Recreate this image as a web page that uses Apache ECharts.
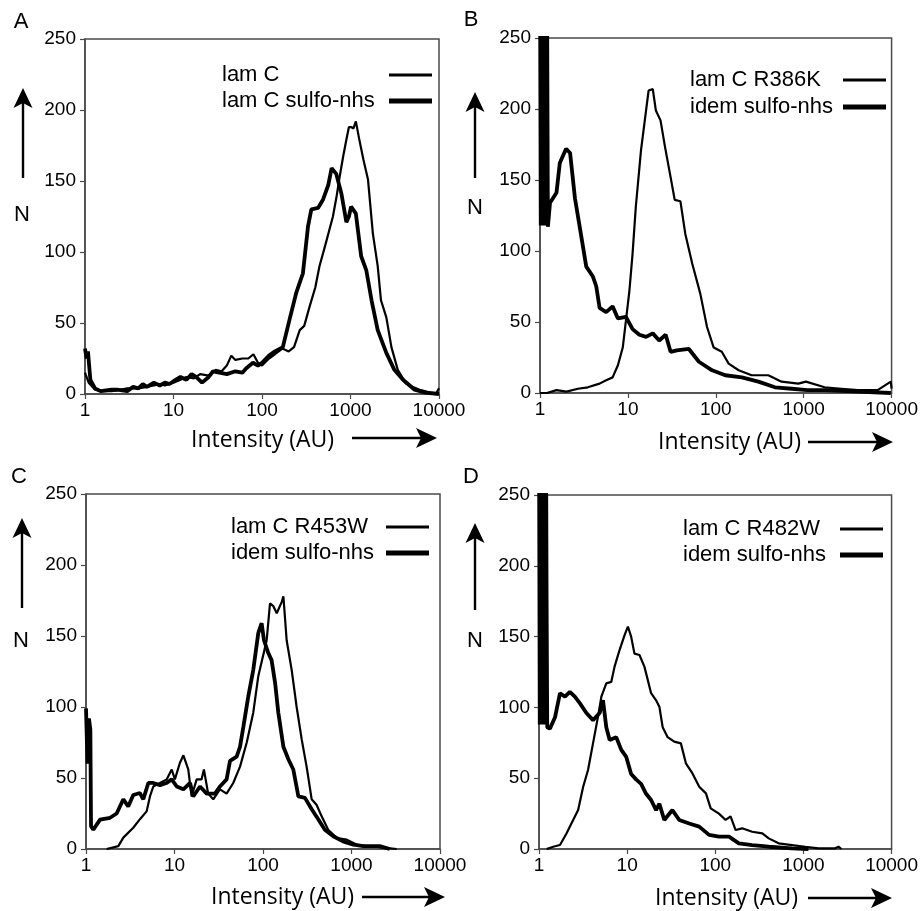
<!DOCTYPE html>
<html><head><meta charset="utf-8">
<script src="https://cdn.jsdelivr.net/npm/echarts@6/dist/echarts.min.js"></script>
<style>html,body{margin:0;padding:0;background:#fff}#c{width:921px;height:911px}</style>
</head><body><div id="c"></div>
<script>
// ---------- DATA ----------
const panelLetters = ['A', 'B', 'C', 'D'];
const yTicks = [0, 50, 100, 150, 200, 250];
const xTicks = [1, 10, 100, 1000, 10000];
const xTitle = 'Intensity (AU)';
const yTitle = 'N';

const namesA = ['lam C', 'lam C sulfo-nhs'];
const namesB = ['lam C R386K', 'idem sulfo-nhs'];
const namesC = ['lam C R453W', 'idem sulfo-nhs'];
const namesD = ['lam C R482W', 'idem sulfo-nhs'];

// Panel A
const aThinX = [1,1.1,1.3,1.5,2,2.5,3,4,5,6,7,8,10,12,14,17,20,25,30,35,40,45,50,60,70,80,90,100,120,140,170,200,230,267,300,343,400,446,520,633,700,754,830,898,960,1015,1080,1150,1250,1400,1577,1790,2030,2210,2540,2900,3420,4220,5000,6060,8000,9300,10000];
const aThinY = [15,8,3,2,2,3,4,4,5,6,7,6,8,10,12,11,14,13,17,16,20,27,24,25,25,28,22,20,25,28,32,30,33,45,48,61,75,90,105,125,140,153,168,179,188,188,187,192,180,165,151,113,90,66,54,33,17,7.5,5,3,1,0.5,4];
const aThickX = [1,1.04,1.08,1.15,1.3,1.5,2,2.3,3,3.5,4,4.5,5,6,7,8,9,10,12,14,16,18,21,25,28,33,40,50,60,66,79,90,100,120,140,172,204,243,290,331,361,430,490,560,612,691,790,898,960,1015,1150,1320,1510,1730,2030,2540,3130,3920,5300,7000,10000];
const aThickY = [32,25,30,10,4,2,3,3,2,5,4,7,5,8,6,8,7,9,12,10,14,12,8,12,16,15,14,16,15,18,22,20,22,27,30,33,52,71,85,118,130,131,137,147,159,155,141,121,125,132,127,97,87,66,45,29,17,10,3,1,0];

// Panel B
const bThinX = [1,1.2,1.54,2,2.7,3.5,4.76,5.66,6.7,7.7,8.74,9.5,10.4,11.3,12.3,14.1,16.1,17.2,19.2,20.8,23.5,26.5,30.6,34.1,39.6,45,54,66.6,79.5,94.6,117,140,182,256,396,560,870,1060,1730,2680,4150,6940,9800,10000];
const bThinY = [0,0,2,1,3,4,6.6,9,11,19.5,32,51,72,98,131,171,199,213,214,199,192,173,152,136,135,112,91,70,46.5,32,29,20.7,16,12.5,12.5,8,6.6,8,4,3,2,2,8,3];
const bThickX = [1,1.02,1.04,1.06,1.08,1.1,1.12,1.14,1.16,1.18,1.2,1.23,1.3,1.54,1.68,1.98,2.2,2.5,2.83,3.36,4.0,4.37,4.76,5.66,6.7,7.7,9.5,11.3,13.5,16.1,19.2,22.7,26.9,30.6,36,49.4,64.3,90.8,128,198,305,471,731,1100,1730,4150,9800];
const bThickY = [300,118,300,118,300,118,300,118,300,118,300,117,134,141,162,172,169,137,117,89,82,75,60,57,61,52.5,53.6,45,41,39.5,42,37,41,29,30,31,22,16,12.5,11,8,4,3,2,2,1,0];

// Panel C
const cThinX = [1.71,2.32,2.64,3.42,4.07,4.84,5.28,5.76,6.85,8.15,9.3,10.1,11.5,12.6,14.3,15.6,17.8,20.2,21.5,24,27.4,32.6,38.8,46.1,55,65.5,77.6,88.4,101,110,120,131,143,163,170,185,211,240,274,311,355,404,460,545,684,885,1150,1490,1950,3240];
const cThinY = [0,2,8,15,21,26.5,37,44,46.5,49,56,49,60.6,66,56,37,49,49,56,39,35,42,39,46.5,58,75,96,121.6,137,147,173,171,166,174,178,147,126,100,77,58,35,31,23,13.6,7.7,6.6,3,2,1.5,0];
const cThickX = [1,1.04,1.08,1.12,1.14,1.21,1.44,1.87,2.22,2.64,3.0,3.42,4.07,4.44,5.06,5.76,6.85,8.15,9.3,10.6,12.6,15,16.3,19.4,23.1,28.7,32.6,38.8,42.4,50.4,55,60,68.2,77.6,88.4,96.5,102.6,114.8,125,137,149,170,194,220,251,298,355,421,500,622,803,1050,1360,2090,2700];
const cThickY = [99,60,92,84,16,13.6,20.7,22,25,35,30,38,39.4,35,46.5,46.5,45,46.5,49,44,42,46.5,37,44,39,39,44,49,62,65,72,86,107.5,126,152,159,147,138,133,117,96,72,63,56,37,36,28,21,13.6,9,5.4,3,2,2,0];

// Panel D
const dThinX = [1.22,1.45,1.73,2.05,2.44,2.78,3.17,3.6,4.1,4.67,5.1,5.8,6.6,7.2,8.2,9.35,10.2,11.1,12.1,13.8,15.7,18.7,21.3,23.2,25.3,28.8,34.2,40.7,46.4,55.1,65.7,78.3,88.7,110,131,149,170,202,262,342,404,523,740,1050,1480,2300,2500,2700];
const dThinY = [0,1.6,2.8,11,20.5,27.5,44,55.8,74.6,93.5,107.6,117,118,128.8,140.5,151,157,150,138,137,128.8,110,105,100.5,86,79,75.8,74.6,60.5,53.4,44,39.3,28.7,25,20.5,23,13.4,14.6,12.2,11,7.5,4,2.8,1.6,0.5,0.5,1.6,0];
const dThickX = [1,1.02,1.04,1.06,1.08,1.1,1.12,1.14,1.16,1.18,1.2,1.22,1.24,1.33,1.52,1.73,1.97,2.24,2.55,2.9,3.45,4.1,4.88,5.32,5.8,6.33,7.52,8.58,9.77,11.1,12.7,14.4,16.4,18.7,21.3,23.2,26.4,32.6,39,50.6,65.7,85,110,143,185,262,404,740,1140];
const dThickY = [300,88,300,88,300,88,300,88,300,88,300,175,86,85,93,110,107.6,111,107.6,103,96,91,96,105,86,77,79,70,65,53,49,46,39,34.6,27.5,32,20.5,27.5,20.5,18,15.8,10,8.7,8.7,4,2.8,1.6,0.5,0];

// ---------- CHART ----------
const zip = (xs, ys) => xs.map((x, i) => [x, ys[i]]);
const grids = [
  {left: 85, top: 39, width: 354, height: 355},
  {left: 540, top: 38, width: 354, height: 355},
  {left: 86, top: 494, width: 354, height: 355},
  {left: 539, top: 495, width: 354, height: 354}
];
const axisGray = '#4a4a4a';
const tickFont = {fontFamily: 'Liberation Sans', fontSize: 19, color: '#000'};

const xAxes = grids.map((g, i) => ({
  gridIndex: i, type: 'log', logBase: 10, min: xTicks[0], max: xTicks[xTicks.length - 1],
  axisLine: {lineStyle: {color: axisGray, width: 1.5}},
  axisTick: {inside: false, length: 5, lineStyle: {color: axisGray, width: 1.2}},
  minorTick: {show: false}, splitLine: {show: false},
  axisLabel: Object.assign({margin: 7, formatter: v => String(Math.round(v))}, tickFont)
}));
const yAxes = grids.map((g, i) => ({
  gridIndex: i, type: 'value', min: yTicks[0], max: yTicks[yTicks.length - 1], interval: 50,
  axisLine: {show: true, lineStyle: {color: axisGray, width: 1.5}},
  axisTick: {show: true, inside: false, length: 5, lineStyle: {color: axisGray, width: 1.2}},
  splitLine: {show: false},
  axisLabel: Object.assign({margin: 9}, tickFont)
}));

const panels = [
  {names: namesA, thin: zip(aThinX, aThinY), thick: zip(aThickX, aThickY)},
  {names: namesB, thin: zip(bThinX, bThinY), thick: zip(bThickX, bThickY)},
  {names: namesC, thin: zip(cThinX, cThinY), thick: zip(cThickX, cThickY)},
  {names: namesD, thin: zip(dThinX, dThinY), thick: zip(dThickX, dThickY)}
];
const series = [];
panels.forEach((p, i) => {
  series.push({type: 'line', name: p.names[0], xAxisIndex: i, yAxisIndex: i, data: p.thin,
    showSymbol: false, symbol: 'none', clip: true, color: '#000',
    lineStyle: {color: '#000', width: 2.2}, z: 3});
  series.push({type: 'line', name: p.names[1], xAxisIndex: i, yAxisIndex: i, data: p.thick,
    showSymbol: false, symbol: 'none', clip: true, color: '#000',
    lineStyle: {color: '#000', width: 3.8}, z: 2});
});

const legendPos = [
  {left: 222, tops: [63, 89], w: 162},
  {left: 690, tops: [68, 95], w: 148},
  {left: 231, tops: [515, 541], w: 150},
  {left: 683, tops: [517, 543], w: 152}
];
const legends = [];
panels.forEach((p, i) => {
  const lp = legendPos[i];
  [0, 1].forEach(k => {
    legends.push({
      left: lp.left, top: lp.tops[k], padding: 0, align: 'right', orient: 'horizontal',
      selectedMode: false, icon: 'rect', itemWidth: 43, itemHeight: k === 0 ? 3 : 5,
      itemStyle: {color: '#000'},
      data: [{name: p.names[k], icon: 'rect'}],
      formatter: '{t|{name}}',
      textStyle: {fontFamily: 'Liberation Sans', fontSize: 22, color: '#000', lineHeight: 24,
        rich: {t: {width: lp.w, align: 'left', fontFamily: 'Liberation Sans', fontSize: 22, color: '#000', lineHeight: 24}}}
    });
  });
});

// decorations: panel letters, N with up-arrow, x-axis title with right-arrow
const letterPos = [[21, 22], [471, 20], [19, 477], [471, 477]];
const nPos = [[22, 215], [475, 208], [21, 641], [475, 641]];
const upArrow = [[23, 88, 178], [475, 92, 178], [22, 518, 608], [475, 523, 610]];
const xTitlePos = [[191, 440, 352, 437, 438], [658, 442, 808, 893, 442], [211, 897, 362, 445, 897], [655, 898, 808, 892, 898]];
const graphic = [];
const txt = (s, x, y, font, align) => ({type: 'text', silent: true,
  style: {text: s, x: x, y: y, font: font, fill: '#000', textAlign: align || 'center', textVerticalAlign: 'middle'}});
for (let i = 0; i < 4; i++) {
  graphic.push(txt(panelLetters[i], letterPos[i][0], letterPos[i][1], '22px "Liberation Sans"'));
  graphic.push(txt(yTitle, nPos[i][0], nPos[i][1], '22px "Liberation Sans"'));
  const [ux, ut, ub] = upArrow[i];
  graphic.push({type: 'line', silent: true, shape: {x1: ux, y1: ut + 12, x2: ux, y2: ub}, style: {stroke: '#000', lineWidth: 2.4}});
  graphic.push({type: 'polygon', silent: true, shape: {points: [[ux, ut], [ux - 9.5, ut + 20], [ux, ut + 15], [ux + 9.5, ut + 20]]}, style: {fill: '#000'}});
  const [tx, ty, a1, a2, ay] = xTitlePos[i];
  graphic.push(txt(xTitle, tx, ty, '23px "Open Sans"', 'left'));
  graphic.push({type: 'line', silent: true, shape: {x1: a1, y1: ay, x2: a2 - 12, y2: ay}, style: {stroke: '#000', lineWidth: 2.4}});
  graphic.push({type: 'polygon', silent: true, shape: {points: [[a2, ay], [a2 - 21, ay - 10], [a2 - 16, ay], [a2 - 21, ay + 10]]}, style: {fill: '#000'}});
}

const chart = echarts.init(document.getElementById('c'), null, {renderer: 'canvas'});
chart.setOption({
  animation: false,
  backgroundColor: '#fff',
  grid: grids.map(g => Object.assign({show: true, borderColor: axisGray, borderWidth: 1.5, backgroundColor: 'transparent'}, g)),
  xAxis: xAxes,
  yAxis: yAxes,
  legend: legends,
  series: series,
  graphic: graphic
});
</script>
</body></html>
